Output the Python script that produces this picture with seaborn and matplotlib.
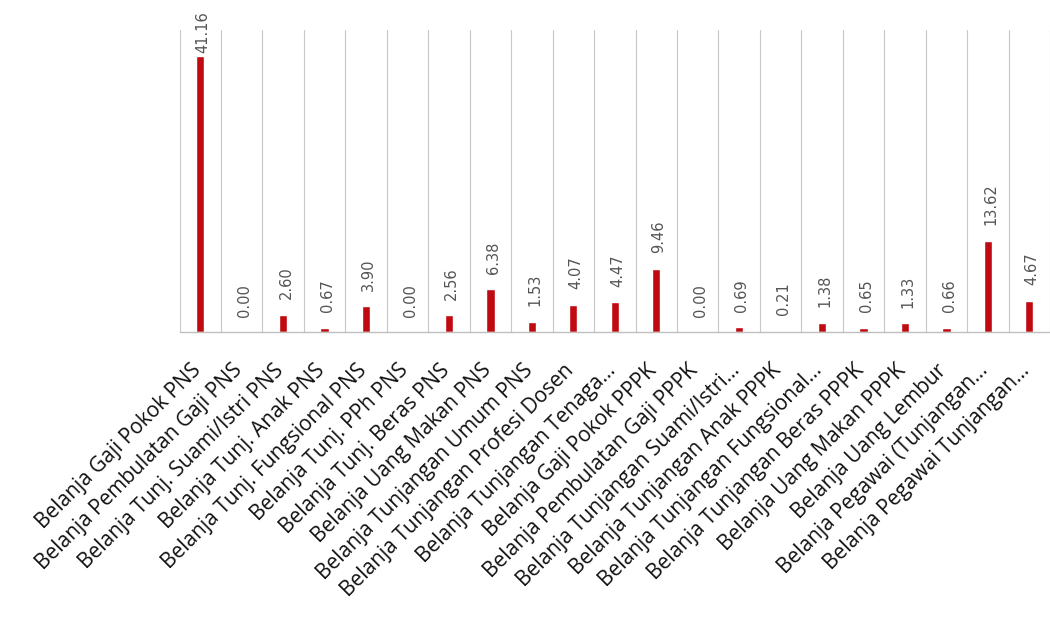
import matplotlib
matplotlib.use("Agg")
import matplotlib.pyplot as plt
import matplotlib.transforms as mtransforms
import seaborn as sns
import pandas as pd

categories = [
    "Belanja Gaji Pokok PNS",
    "Belanja Pembulatan Gaji PNS",
    "Belanja Tunj. Suami/Istri PNS",
    "Belanja Tunj. Anak PNS",
    "Belanja Tunj. Fungsional PNS",
    "Belanja Tunj. PPh PNS",
    "Belanja Tunj. Beras PNS",
    "Belanja Uang Makan PNS",
    "Belanja Tunjangan Umum PNS",
    "Belanja Tunjangan Profesi Dosen",
    "Belanja Tunjangan Tenaga…",
    "Belanja Gaji Pokok PPPK",
    "Belanja Pembulatan Gaji PPPK",
    "Belanja Tunjangan Suami/Istri…",
    "Belanja Tunjangan Anak PPPK",
    "Belanja Tunjangan Fungsional…",
    "Belanja Tunjangan Beras PPPK",
    "Belanja Uang Makan PPPK",
    "Belanja Uang Lembur",
    "Belanja Pegawai (Tunjangan…",
    "Belanja Pegawai Tunjangan…",
]
values = [41.16, 0.00, 2.60, 0.67, 3.90, 0.00, 2.56, 6.38, 1.53, 4.07, 4.47,
          9.46, 0.00, 0.69, 0.21, 1.38, 0.65, 1.33, 0.66, 13.62, 4.67]

df = pd.DataFrame({"cat": categories, "val": values})

sns.set_theme(style="white")
plt.rcParams["font.family"] = ["Open Sans", "DejaVu Sans"]

fig = plt.figure(figsize=(10.5, 6.2), dpi=100)
ax = fig.add_axes([0.171, 0.4645, 0.829, 0.487])

sns.barplot(data=df, x="cat", y="val", color="#C00A12", width=0.2,
            saturation=1, ax=ax)

ax.set_xlim(-0.5, len(categories) - 0.5)
ax.set_ylim(0, 45)

for i in range(len(categories) + 1):
    ax.axvline(i - 0.5, color="#c8c8c8", lw=0.8, zorder=0)

vmax = max(values)
for i, v in enumerate(values):
    pad = 2 if v == vmax else 11
    ax.annotate(f"{v:.2f}", (i, v), xytext=(2, pad), textcoords="offset points",
                rotation=90, ha="center", va="bottom", fontsize=10.5,
                color="#555555", family=["DejaVu Sans"])

ax.set_xlabel("")
ax.set_ylabel("")
ax.set_yticks([])
ax.set_xticks(range(len(categories)))
ax.set_xticklabels(categories, rotation=45, ha="right", rotation_mode="anchor",
                   fontsize=15, color="#111111")
ax.tick_params(axis="x", length=0, pad=20)
shift = mtransforms.ScaledTranslation(-10 / 100, 0, fig.dpi_scale_trans)
for lab in ax.get_xticklabels():
    lab.set_transform(lab.get_transform() + shift)
for s in ["top", "left", "right"]:
    ax.spines[s].set_visible(False)
ax.spines["bottom"].set_color("#bfbfbf")
ax.spines["bottom"].set_linewidth(1.0)

fig.savefig("out.png", dpi=100, facecolor="white")
